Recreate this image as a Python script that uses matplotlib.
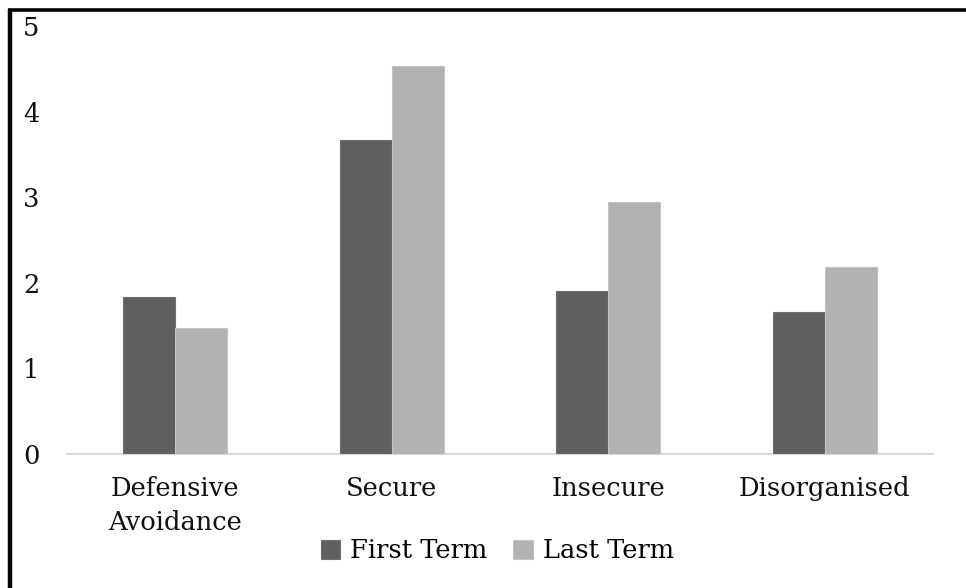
import numpy as np
import matplotlib
matplotlib.use("Agg")
import matplotlib.pyplot as plt
from matplotlib.lines import Line2D

categories = ["Defensive\nAvoidance", "Secure", "Insecure", "Disorganised"]
first_term = [1.83, 3.67, 1.90, 1.66]
last_term = [1.47, 4.53, 2.94, 2.19]
yticks = [0, 1, 2, 3, 4, 5]

plt.rcParams['font.family'] = ['DejaVu Serif']
FS = 18.5

fig = plt.figure(figsize=(9.66, 5.88), dpi=100)
ax = fig.add_axes([0.0694, 0.2279, 0.8964, 0.7279])

x = np.arange(len(categories))
w = 0.24
ax.bar(x - w / 2, first_term, w, color="#5f5f5f", edgecolor="#707070",
       linewidth=0.8, label="First Term", zorder=3)
ax.bar(x + w / 2, last_term, w, color="#b2b2b2", edgecolor="#c4c4c4",
       linewidth=0.8, label="Last Term", zorder=3)

ax.set_xlim(-0.5, len(categories) - 0.5)
ax.set_ylim(0, 5)
ax.set_yticks(yticks)
ax.set_yticklabels([str(t) for t in yticks], fontsize=FS)
ax.set_xticks(x)
ax.set_xticklabels(categories, fontsize=FS, linespacing=1.45)
ax.tick_params(axis="both", length=0, colors="#111111")
ax.tick_params(axis="y", pad=20)
ax.tick_params(axis="x", pad=16)

for side in ["top", "right", "left"]:
    ax.spines[side].set_visible(False)
ax.spines["bottom"].set_color("#d9d9d9")
ax.spines["bottom"].set_linewidth(1.6)

leg = fig.legend(loc="center", bbox_to_anchor=(0.515, 0.063), ncol=2,
                 frameon=False, fontsize=FS, handlelength=0.75,
                 handleheight=0.75, handletextpad=0.4, columnspacing=1.0)

# frame lines on the left and top edges
fig.add_artist(Line2D([10 / 966, 10 / 966], [0, 1 - 9 / 588], color="black",
                      linewidth=3.2, solid_capstyle="butt",
                      transform=fig.transFigure))
fig.add_artist(Line2D([8 / 966, 1], [1 - 10 / 588, 1 - 10 / 588],
                      color="black", linewidth=2.6, solid_capstyle="butt",
                      transform=fig.transFigure))

fig.savefig("out.png", dpi=100)
